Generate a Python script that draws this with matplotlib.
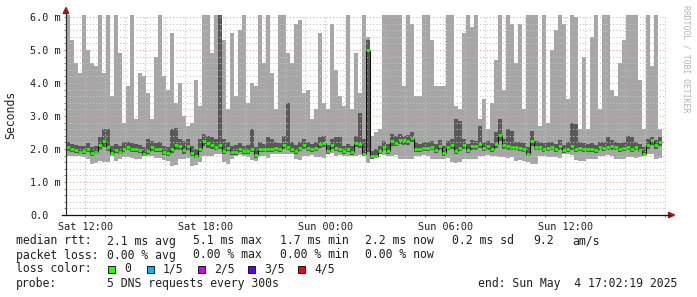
import numpy as np
import matplotlib.pyplot as plt
from matplotlib.lines import Line2D
from matplotlib.patches import Polygon, Rectangle

# smokeping style rtt graph, 12 min slots starting Sat 11:02:19
t_start = 11 + 2 / 60 + 19 / 3600   # hours since Sat 00:00
step_h = 0.2

# max ping (top of the smoke), ms
hi = [6.1, 5.3, 4.6, 4.3, 6.1, 5.0, 4.6, 4.5, 6.1, 4.3,
      6.1, 3.6, 6.1, 4.9, 2.8, 3.9, 6.1, 2.9, 4.3, 4.2,
      3.7, 2.9, 4.8, 6.1, 4.2, 3.8, 5.5, 3.4, 4.0, 3.0,
      2.7, 2.8, 4.1, 3.3, 6.1, 6.1, 4.9, 6.1, 6.1, 5.3,
      3.2, 5.5, 3.6, 5.6, 6.1, 3.4, 4.0, 3.9, 6.1, 4.6,
      6.1, 4.3, 3.2, 6.1, 6.1, 4.9, 4.6, 5.8, 5.9, 3.7,
      3.8, 2.9, 3.2, 5.5, 3.4, 3.2, 5.8, 4.4, 3.6, 3.3,
      6.1, 3.2, 4.9, 3.7, 6.1, 5.4, 2.4, 2.5, 2.6, 6.1,
      6.1, 6.1, 6.1, 6.1, 3.9, 6.1, 5.8, 3.6, 3.6, 6.1,
      6.1, 5.3, 3.9, 3.9, 3.9, 6.1, 6.1, 3.3, 3.2, 5.5,
      6.1, 5.7, 6.1, 2.9, 3.5, 2.6, 3.4, 4.7, 6.1, 3.8,
      6.1, 5.8, 4.6, 5.8, 3.2, 6.1, 6.1, 6.1, 2.7, 6.1,
      2.8, 5.0, 5.6, 6.1, 5.8, 3.5, 6.1, 6.0, 2.6, 4.8,
      2.6, 5.4, 6.1, 3.2, 6.1, 6.1, 3.8, 3.6, 4.6, 5.3,
      6.1, 6.1, 6.1, 4.1, 2.6, 6.1, 4.5, 6.1, 2.6]

# 4th ping (top of the dark band)
dk_hi = [2.20, 2.15, 2.12, 2.10, 2.08, 2.18, 2.05, 2.10, 2.35, 2.60,
         2.60, 2.10, 2.15, 2.08, 2.20, 2.22, 2.18, 2.15, 2.12, 2.05,
         2.30, 2.25, 2.18, 2.20, 2.08, 2.05, 2.60, 2.65, 2.30, 2.25,
         2.30, 2.10, 2.00, 2.30, 2.45, 2.40, 2.35, 2.30, 6.10, 2.30,
         2.20, 2.10, 2.12, 2.18, 2.10, 2.12, 2.60, 2.05, 2.20, 2.15,
         2.35, 2.30, 2.20, 2.18, 2.40, 3.40, 2.20, 2.12, 2.22, 2.30,
         2.20, 2.15, 2.22, 2.35, 2.40, 2.12, 2.30, 2.35, 2.35, 2.10,
         2.15, 2.10, 2.40, 3.10, 2.30, 5.30, 1.95, 2.00, 2.10, 2.25,
         2.15, 2.45, 2.40, 2.45, 2.40, 2.42, 2.50, 2.20, 2.15, 2.20,
         2.22, 2.25, 2.15, 2.28, 2.10, 2.25, 2.30, 2.90, 2.85, 2.30,
         2.15, 2.28, 2.25, 2.70, 2.20, 2.25, 2.18, 2.50, 2.90, 2.30,
         2.60, 2.55, 2.22, 2.20, 2.18, 2.05, 2.55, 2.25, 2.22, 2.18,
         2.20, 2.22, 2.15, 2.28, 2.12, 2.20, 2.80, 2.75, 2.20, 2.18,
         2.15, 2.18, 2.12, 2.22, 2.20, 2.35, 2.28, 2.22, 2.18, 2.20,
         2.40, 2.35, 2.22, 2.15, 2.05, 2.30, 2.35, 2.28, 2.35]

# median rtt
med = [2.06, 2.00, 1.97, 1.92, 1.93, 2.00, 1.87, 1.92, 2.11, 2.23,
       2.06, 1.89, 1.98, 1.92, 2.01, 2.07, 2.01, 2.00, 1.97, 1.86,
       1.93, 2.06, 2.01, 2.01, 1.91, 1.89, 1.99, 2.11, 2.08, 1.96,
       2.09, 1.89, 1.79, 2.01, 2.25, 2.17, 2.11, 2.06, 2.11, 1.94,
       2.03, 1.91, 1.91, 2.00, 1.93, 1.93, 2.01, 1.81, 2.01, 1.99,
       2.01, 2.01, 2.03, 2.01, 2.11, 2.05, 2.00, 1.95, 2.04, 2.11,
       2.03, 1.99, 2.04, 2.14, 2.18, 1.94, 2.11, 2.04, 2.01, 1.93,
       1.99, 1.91, 2.19, 2.16, 1.85, 5.00, 1.78, 1.79, 1.93, 2.06,
       1.93, 2.23, 2.19, 2.26, 2.26, 2.24, 2.33, 2.01, 1.99, 2.03,
       2.03, 2.06, 1.97, 2.09, 1.89, 2.07, 2.11, 1.93, 2.04, 2.11,
       1.98, 2.09, 2.08, 2.16, 2.03, 2.08, 2.01, 2.16, 2.41, 2.11,
       2.08, 2.06, 2.06, 2.03, 2.00, 1.86, 2.24, 2.06, 2.05, 2.01,
       2.04, 2.06, 1.99, 2.09, 1.96, 2.01, 2.09, 2.01, 2.02, 2.01,
       1.99, 2.01, 1.96, 2.05, 2.03, 2.06, 2.09, 2.06, 2.01, 2.03,
       2.06, 2.01, 2.06, 1.98, 1.86, 2.11, 2.26, 2.11, 2.20]

# 2nd ping (bottom of the dark band)
dk_lo = [1.95, 1.90, 1.88, 1.84, 1.86, 1.90, 1.80, 1.84, 1.98, 2.05,
         1.95, 1.82, 1.88, 1.84, 1.92, 1.96, 1.90, 1.90, 1.88, 1.78,
         1.84, 1.95, 1.92, 1.90, 1.82, 1.78, 1.88, 1.98, 1.96, 1.86,
         1.98, 1.80, 1.72, 1.90, 2.10, 2.04, 2.00, 1.96, 2.00, 1.86,
         1.94, 1.82, 1.82, 1.90, 1.84, 1.85, 1.92, 1.74, 1.92, 1.90,
         1.92, 1.92, 1.94, 1.92, 2.00, 1.96, 1.92, 1.86, 1.95, 2.00,
         1.94, 1.90, 1.95, 2.02, 2.06, 1.86, 2.00, 1.95, 1.92, 1.85,
         1.90, 1.82, 2.06, 2.04, 1.78, 1.90, 1.70, 1.72, 1.85, 1.96,
         1.85, 2.10, 2.08, 2.14, 2.12, 2.12, 2.20, 1.92, 1.90, 1.94,
         1.94, 1.96, 1.88, 1.98, 1.80, 1.97, 2.00, 1.84, 1.94, 2.00,
         1.88, 1.98, 1.98, 2.04, 1.94, 1.98, 1.92, 2.04, 2.25, 2.00,
         1.98, 1.96, 1.96, 1.94, 1.90, 1.78, 2.10, 1.96, 1.96, 1.92,
         1.94, 1.96, 1.90, 1.98, 1.88, 1.92, 1.98, 1.92, 1.93, 1.92,
         1.90, 1.92, 1.88, 1.96, 1.94, 1.96, 1.98, 1.96, 1.92, 1.94,
         1.96, 1.92, 1.96, 1.90, 1.78, 2.00, 2.12, 2.00, 2.08]

# min ping (bottom of the smoke)
lo = [1.79, 1.80, 1.78, 1.80, 1.75, 1.70, 1.56, 1.58, 1.65, 1.62,
      1.60, 1.78, 1.63, 1.70, 1.75, 1.76, 1.72, 1.70, 1.71, 1.79,
      1.80, 1.78, 1.73, 1.74, 1.66, 1.64, 1.48, 1.52, 1.71, 1.70,
      1.72, 1.48, 1.50, 1.60, 1.78, 1.79, 1.80, 1.86, 1.85, 1.62,
      1.55, 1.70, 1.80, 1.81, 1.78, 1.76, 1.66, 1.64, 1.80, 1.78,
      1.72, 1.86, 1.85, 1.84, 1.86, 1.85, 1.84, 1.70, 1.68, 1.80,
      1.79, 1.81, 1.75, 1.76, 1.74, 1.90, 1.89, 1.80, 1.81, 1.79,
      1.80, 1.78, 1.80, 1.81, 1.85, 1.58, 1.91, 1.90, 1.92, 1.82,
      1.80, 1.79, 1.81, 1.70, 1.71, 1.69, 1.70, 1.80, 1.79, 1.81,
      1.80, 1.70, 1.71, 1.69, 1.70, 1.72, 1.60, 1.59, 1.60, 1.70,
      1.71, 1.69, 1.70, 1.79, 1.80, 1.81, 1.79, 1.80, 1.75, 1.76,
      1.74, 1.75, 1.65, 1.66, 1.64, 1.60, 1.55, 1.56, 1.80, 1.79,
      1.76, 1.75, 1.76, 1.74, 1.85, 1.84, 1.83, 1.66, 1.65, 1.64,
      1.70, 1.71, 1.69, 1.80, 1.79, 1.81, 1.80, 1.70, 1.71, 1.69,
      1.75, 1.76, 1.74, 1.75, 1.84, 1.85, 1.84, 1.70, 1.72]

tick_hours = [12, 18, 24, 30, 36]
tick_labels = ['Sat 12:00', 'Sat 18:00', 'Sun 00:00', 'Sun 06:00', 'Sun 12:00']
y_ticks = [0, 1, 2, 3, 4, 5, 6]
y_labels = ['0.0', '1.0 m', '2.0 m', '3.0 m', '4.0 m', '5.0 m', '6.0 m']

loss_names = ['0', '1/5', '2/5', '3/5', '4/5']
loss_colors = ['#26ff00', '#00b8ff', '#cc00ff', '#5e00ff', '#ff0000']

rtt_stats = ['2.1 ms avg', '5.1 ms max', '1.7 ms min', '2.2 ms now', '0.2 ms sd']
loss_stats = ['0.00 % avg', '0.00 % max', '0.00 % min', '0.00 % now']

W, H = 697, 297
MONO = 'DejaVu Sans Mono'


def fx(x):
    return x / W


def fy(y):
    return 1 - y / H


fig = plt.figure(figsize=(W / 100, H / 100), dpi=100)
fig.patch.set_facecolor('white')
ax = fig.add_axes([fx(66), fy(215), 600 / W, 200 / H])

edges = t_start + step_h * np.arange(len(med) + 1)

ax.stairs(hi, edges, baseline=lo, fill=True, color='#a6a6a6', lw=0, zorder=1)
ax.stairs(dk_hi, edges, baseline=dk_lo, fill=True, color='#585858', lw=0, zorder=2)
ax.stairs(med, edges, baseline=None, color='#101010', lw=0.8, zorder=4)
ax.hlines(med, edges[:-1], edges[1:], color=loss_colors[0], lw=1.9, zorder=5)

# grid: minor grey, major light red
for h in range(12, 42):
    col = '#e6a3a3' if h % 3 == 0 else '#c4c4c4'
    ax.axvline(h, color=col, lw=0.8, ls=(0, (1, 2)), zorder=3)
for k in range(1, 31):
    col = '#e6a3a3' if k % 5 == 0 else '#c4c4c4'
    ax.axhline(k * 0.2, color=col, lw=0.8, ls=(0, (1, 2)), zorder=3)

ax.set_xlim(t_start, t_start + 30)
ax.set_ylim(0, 6.06)
for s in ax.spines.values():
    s.set_visible(False)

ax.set_xticks(tick_hours, tick_labels)
ax.set_xticks(range(12, 42), minor=True)
ax.set_yticks(y_ticks, y_labels)
ax.set_yticks(np.arange(0, 6.01, 0.2), minor=True)
ax.tick_params(which='both', length=1.5, width=0.6, color='#707070', direction='out')
ax.tick_params(axis='x', labelsize=7.3, pad=3.5)
ax.tick_params(axis='y', labelsize=7.3, pad=24.5)
for lab in ax.get_xticklabels() + ax.get_yticklabels():
    lab.set_family(MONO)
    lab.set_color('#202020')
for lab in ax.get_yticklabels():
    lab.set_horizontalalignment('left')

# axis lines with arrow heads
fig.add_artist(Line2D([fx(66), fx(66)], [fy(215), fy(12)], color='#303030', lw=0.9))
fig.add_artist(Line2D([fx(62), fx(670)], [fy(215), fy(215)], color='#101010', lw=0.9))
fig.add_artist(Polygon([[fx(63.2), fy(13.5)], [fx(68.8), fy(13.5)], [fx(66), fy(7.5)]],
                       closed=True, color='#9c1c1c', transform=fig.transFigure))
fig.add_artist(Polygon([[fx(668.5), fy(212.2)], [fx(668.5), fy(217.8)], [fx(674.5), fy(215)]],
                       closed=True, color='#9c1c1c', transform=fig.transFigure))

fig.text(fx(11), fy(115), 'Seconds', rotation=90, ha='center', va='center',
         family=MONO, fontsize=8.3, color='#202020')
fig.text(fx(686), fy(59), 'RRDTOOL / TOBI OETIKER', rotation=270, ha='center', va='center',
         family=MONO, fontsize=5.9, color='#b4b4b4')

# legend block
txt = dict(family=MONO, fontsize=8.3, color='#202020', va='center', ha='left')
col_x = [107, 193, 280, 365, 452]
fig.text(fx(16), fy(241), 'median rtt:', **txt)
for x, s in zip(col_x, rtt_stats):
    fig.text(fx(x), fy(241), s, **txt)
fig.text(fx(533), fy(241), '9.2', **txt)
fig.text(fx(572), fy(241), 'am/s', **txt)

fig.text(fx(16), fy(255), 'packet loss:', **txt)
for x, s in zip(col_x, loss_stats):
    fig.text(fx(x), fy(255), s, **txt)

fig.text(fx(16), fy(269), 'loss color:', **txt)
box_x = [108, 147, 198, 248, 298]
for x, name, c in zip(box_x, loss_names, loss_colors):
    fig.add_artist(Rectangle((fx(x), fy(272.5)), 7 / W, 7 / H, facecolor=c,
                             edgecolor='black', lw=0.6, transform=fig.transFigure))
    fig.text(fx(x + 16), fy(269), name, **txt)

fig.text(fx(16), fy(283), 'probe:', **txt)
fig.text(fx(107), fy(283), '5 DNS requests every 300s', **txt)
fig.text(fx(478), fy(283), 'end: Sun May  4 17:02:19 2025', **txt)

fig.savefig('out.png', dpi=100, facecolor='white')
